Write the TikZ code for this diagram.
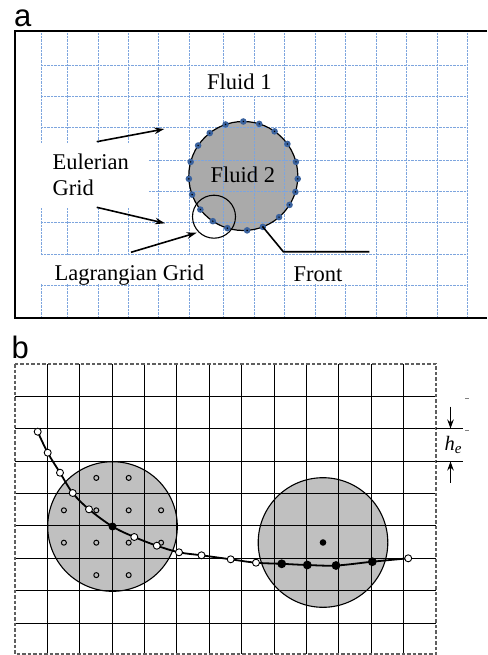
\documentclass[tikz,border=0pt]{standalone}
\usepackage{fontspec}
\setmainfont{Liberation Serif}
\newfontfamily\labelsans{Liberation Sans}
\usetikzlibrary{arrows.meta}
\definecolor{gridblue}{RGB}{125,165,222}
\definecolor{markblue}{RGB}{58,98,158}
\definecolor{fluidgray}{RGB}{170,170,170}
\definecolor{kernelgray}{RGB}{192,192,192}
\definecolor{framegray}{RGB}{95,95,95}
\begin{document}
\begin{tikzpicture}[x=1pt,y=-1pt,
  eul/.style={gridblue, line width=0.75pt, dash pattern=on 0.9pt off 0.5pt},
  lab/.style={font=\fontsize{22.5}{26}\selectfont, inner sep=0pt, anchor=base west},
  panellab/.style={font=\labelsans\fontsize{31}{31}\selectfont, inner sep=0pt, anchor=base west},
  bmark/.style={circle, fill=markblue, minimum size=6.6pt, inner sep=0pt, outer sep=0pt,
    path picture={\fill[black] (path picture bounding box.center) circle (0.8pt);}},
  pointer/.style={line width=1.6pt, -{Stealth[length=10pt,width=6.5pt]}},
  bgrid/.style={black, line width=1.5pt},
  kern/.style={circle, draw=black, line width=1.1pt, fill=kernelgray, minimum size=129.6pt, inner sep=0pt, outer sep=0pt},
  openpt/.style={circle, draw=black, fill=white, line width=0.9pt, minimum size=7pt, inner sep=0pt},
  blackpt/.style={circle, fill=black, minimum size=8.8pt, inner sep=0pt},
  ring/.style={circle, draw=black, line width=1pt, minimum size=5pt, inner sep=0pt},
  heatip/.style={line width=1pt, -{Stealth[length=9pt,width=6.5pt]}}
]
\useasboundingbox (0,0) rectangle (487,655);

% ================= panel a =================
\node[panellab] (la) at (14,26.5) {a};
\node[circle, fill=fluidgray, minimum size=109pt, inner sep=0pt, outer sep=0pt] (f2) at (243.3,176) {};
\foreach \x in {41,67,98,128,158.5,189.5,223,254,284,315,345,376,406,437,467}
  \draw[eul] (\x,33) -- (\x,317);
\foreach \y in {65.7,96.7,127.7,160,191,222.3,254.3,285.3}
  \draw[eul] (41,\y) -- (467,\y);
% text backgrounds
\fill[white] (40,143) rectangle (148,207.5);
\fill[white] (40,256) rectangle (211,283.8);
\fill[white] (200,67) rectangle (272,95.6);
\fill[white] (287,255.6) rectangle (346.5,284);
% interface
\draw[black, line width=1.2pt] (f2.center) circle (54.5pt);
\node[circle, draw=black, line width=1.1pt, minimum size=43pt, inner sep=0pt, outer sep=0pt] (lz) at (214,216.7) {};
\foreach \a [count=\i] in {90,73.5,55,36.8,15,-3.6,-17.6,-32,-49.6,-69,-86,-107,-124,-142,-160,-177,165.6,146.6,128.7,109.5}
  \node[bmark] (m\i) at (f2.\a) {};
% frame
\draw[line width=2.2pt] (487,31) -- (15,31) -- (15,318) -- (487,318);
% labels
\node[lab] (fl1) at (207,89.5) {Fluid 1};
\node[lab] (fl2) at (210.5,182.3) {Fluid 2};
\node[lab] (eu1) at (52.5,169.3) {Eulerian};
\node[lab] (eu2) at (52.5,195.3) {Grid};
\node[lab] (lg) at (54.5,280.3) {Lagrangian Grid};
\node[lab] (fr) at (293.5,281.5) {Front};
% pointers
\coordinate (e1s) at (96.7,141.7);
\coordinate (e1e) at (164.3,129);
\coordinate (e2s) at (96.7,207.3);
\coordinate (e2e) at (165,223.3);
\coordinate (l1s) at (131,252.3);
\coordinate (l1e) at (196.7,232.7);
\coordinate (frk) at (283.3,251.7);
\coordinate (fre) at (369.3,251.7);
\draw[pointer] (e1s) -- (e1e);
\draw[pointer] (e2s) -- (e2e);
\draw[pointer] (l1s) -- (l1e);
\draw[line width=1.6pt] (m10.center) -- (frk) -- (fre);

% ================= panel b =================
\node[panellab] (lb) at (11.5,358) {b};
\node[kern] (k1) at (112.5,526.5) {};
\node[kern] (k2) at (323,542.5) {};
\foreach \i in {1,...,12}{
  \pgfmathsetmacro\xx{floor(15+32.4*\i)+0.5}
  \draw[bgrid] (\xx,364) -- (\xx,654);}
\foreach \j in {1,...,8}{
  \pgfmathsetmacro\yy{floor(364+32.4*\j)+0.5}
  \draw[bgrid] (15,\yy) -- (436,\yy);}
\draw[framegray, line width=1.3pt, dash pattern=on 3.5pt off 2pt] (15,364) rectangle (436,654);
% h_e dimension
\coordinate (ht) at (463,428.5);
\coordinate (hb) at (463,461.5);
\draw[bgrid] (436,428.5) -- (ht);
\draw[bgrid] (436,461.5) -- (hb);
\coordinate (uas) at (450.5,406.5);
\coordinate (uae) at (450.5,428.5);
\coordinate (las) at (450.5,482.5);
\coordinate (lae) at (450.5,461.5);
\draw[heatip] (uas) -- (uae);
\draw[heatip] (las) -- (lae);
\node[inner sep=0pt, anchor=base west, font=\fontsize{20.5}{20.5}\selectfont] (he) at (444.5,450)
  {\textit{h}\raisebox{-3pt}{\fontsize{15}{15}\selectfont\textit{e}}};
\draw[gray, line width=0.8pt] (465,398.8) -- (468.5,398.8);
\draw[gray, line width=0.8pt] (465,430.6) -- (468.5,430.6);
% kernel sample points
\foreach \dx/\dy [count=\i] in {-0.5/-1.5,0.5/-1.5,-1.5/-0.5,-0.5/-0.5,0.5/-0.5,1.5/-0.5,-1.5/0.5,-0.5/0.5,0.5/0.5,1.5/0.5,-0.5/1.5,0.5/1.5}
  \node[ring] (r\i) at (112.5+32.4*\dx,526.5+32.4*\dy) {};
% front curve
\coordinate (p1) at (37.7,431.7);
\coordinate (p2) at (47.7,452.7);
\coordinate (p3) at (60,472.7);
\coordinate (p4) at (72.7,493);
\coordinate (p5) at (89,509.3);
\coordinate (p6) at (112.5,526.5);
\coordinate (p7) at (134.3,537);
\coordinate (p8) at (156.8,545.7);
\coordinate (p9) at (179,552.3);
\coordinate (p10) at (201.5,555.3);
\coordinate (p11) at (230.7,559.3);
\coordinate (p12) at (256,562.7);
\coordinate (p13) at (281.7,563.8);
\coordinate (p14) at (307.3,565);
\coordinate (p15) at (336,565.5);
\coordinate (p16) at (372.3,561.7);
\coordinate (p17) at (408.2,558.3);
\draw[black, line width=1.8pt] plot[smooth, tension=0.6] coordinates {(p1) (p2) (p3) (p4) (p5) (p6) (p7) (p8) (p9) (p10) (p11) (p12) (p13) (p14) (p15) (p16) (p17)};
\foreach \k in {1,2,3,4,5,7,8,9,10,11,12,17}
  \node[openpt] (o\k) at (p\k) {};
\node[blackpt, minimum size=8pt] (c6) at (p6) {};
\foreach \k in {13,14,15,16}
  \node[blackpt] (c\k) at (p\k) {};
\node[circle, fill=black, minimum size=6.6pt, inner sep=0pt] (k2c) at (k2.center) {};
\end{tikzpicture}
\end{document}
